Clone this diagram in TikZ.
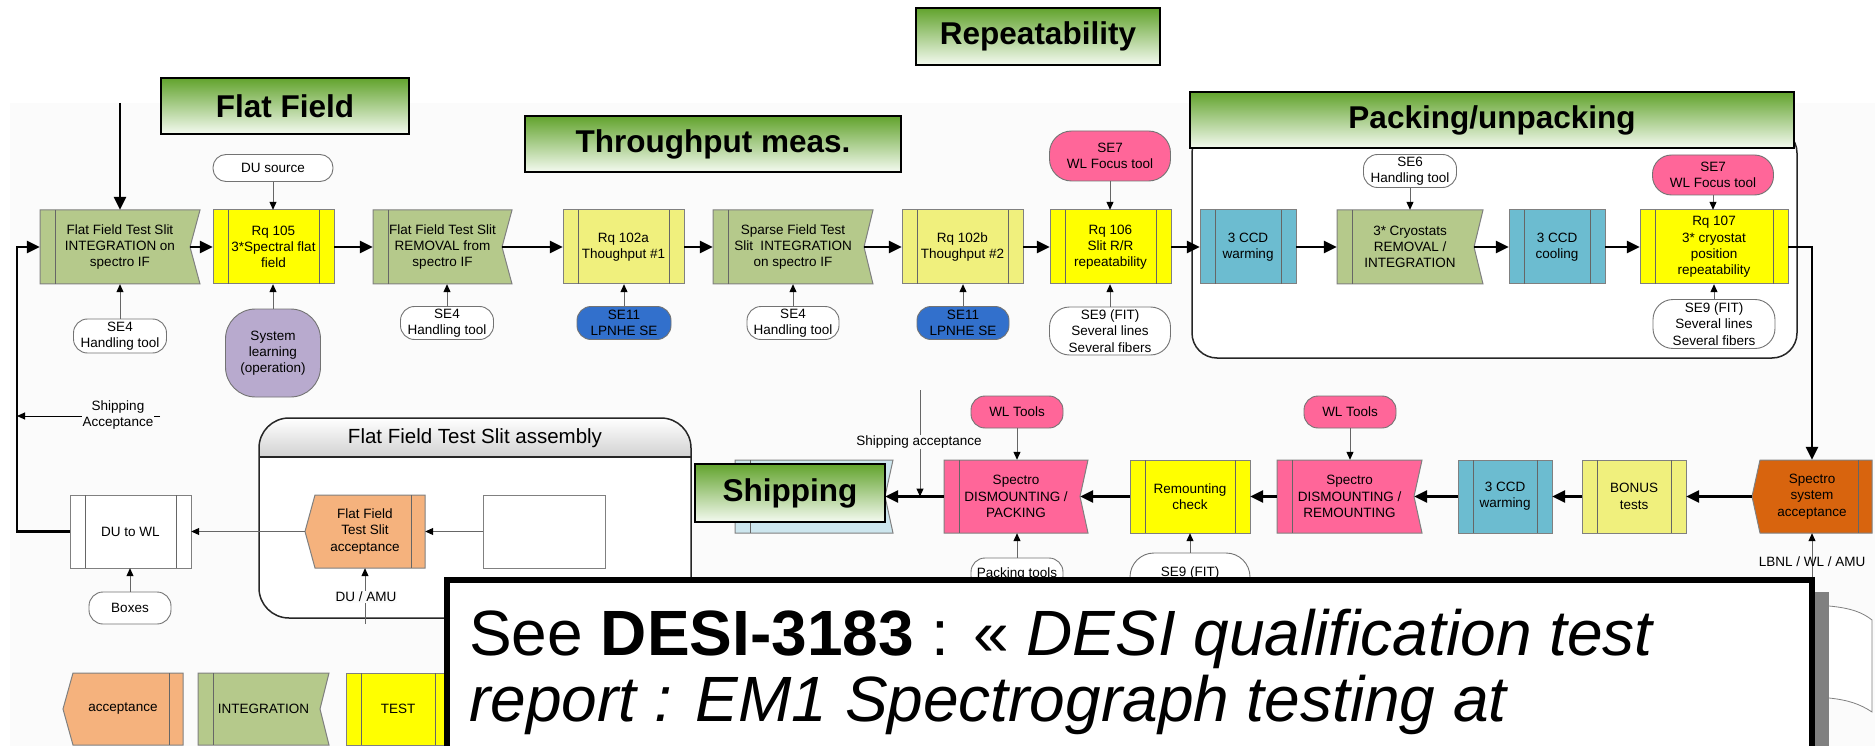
\documentclass[tikz,border=0pt]{standalone}
\usepackage{fontspec}
\setmainfont{Liberation Sans}
\usetikzlibrary{arrows.meta,calc}
\definecolor{cgreen}{RGB}{181,201,139}
\definecolor{cyel}{RGB}{255,255,0}
\definecolor{cpale}{RGB}{240,240,125}
\definecolor{cteal}{RGB}{108,188,208}
\definecolor{cpink}{RGB}{255,102,153}
\definecolor{cblue}{RGB}{50,112,204}
\definecolor{cpurple}{RGB}{184,170,206}
\definecolor{cdorange}{RGB}{216,100,14}
\definecolor{corange}{RGB}{245,178,125}
\definecolor{cship}{RGB}{205,230,238}
\definecolor{ttop}{RGB}{98,163,45}
\definecolor{tbot}{RGB}{244,250,240}
\definecolor{bgc}{RGB}{251,251,251}
\newcommand\smtxt{\fontsize{13.5}{16.3}\selectfont}
\newcommand\ttlfont{\bfseries\fontsize{31.5}{36}\selectfont}
\newcommand\ProcBox[7]{%
  \filldraw[boxline,fill=#6] (#2,#3) rectangle (#4,#5);
  \draw[innerline] (#2+15,#3) -- (#2+15,#5) (#4-15,#3) -- (#4-15,#5);
  \node[boxtext,minimum width=#4-#2,minimum height=#5-#3] (#1) at ({(#2+#4)/2},{(#3+#5)/2}) {#7};}
\newcommand\IntBox[8]{%
  \filldraw[boxline,fill=#6] (#2,#3) -- (#4,#3) -- (#4-#8,{(#3+#5)/2}) -- (#4,#5) -- (#2,#5) -- cycle;
  \draw[innerline] (#2+15,#3) -- (#2+15,#5);
  \node[boxtext,minimum width=#4-#2,minimum height=#5-#3] (#1) at ({(#2+#4)/2},{(#3+#5)/2}) {#7};}
\newcommand\AccBox[8]{%
  \filldraw[boxline,fill=#6] (#2+#8,#3) -- (#4,#3) -- (#4,#5) -- (#2+#8,#5) -- (#2,{(#3+#5)/2}) -- cycle;
  \draw[innerline] (#4-14,#3) -- (#4-14,#5);
  \node[boxtext,minimum width=#4-#2,minimum height=#5-#3] (#1) at ({(#2+#4)/2},{(#3+#5)/2}) {#7};}
\begin{document}
\begin{tikzpicture}[x=1pt,y=-1pt,
  boxline/.style={draw=black!50,line width=1pt},
  innerline/.style={draw=black!60,line width=1pt},
  boxtext/.style={inner sep=0pt,align=center,font=\smtxt},
  tool/.style={draw=black!55,line width=0.9pt,fill=white,align=center,inner sep=0pt,font=\smtxt,rounded corners=14pt},
  mainarr/.style={line width=2.6pt,-{Triangle[length=13pt,width=12pt]}},
  thinarr/.style={draw=black!60,line width=1pt,-{Triangle[length=8pt,width=7pt,color=black]}},
  ttl/.style={draw=black,line width=1.3pt,top color=ttop,bottom color=tbot,font=\ttlfont,inner sep=0pt},
  lbl/.style={font=\smtxt,align=center,inner sep=1pt}]
\useasboundingbox (0,0) rectangle (1875,746);
\clip (0,0) rectangle (1875,746);
\fill[bgc] (10,103) rectangle (1875,746);

% containers
\draw[line width=1.5pt,black!85,rounded corners=25pt,fill=white] (1192,128) rectangle (1797,358);
\begin{scope}
  \clip[rounded corners=30pt] (259,418) rectangle (691,618);
  \fill[white] (259,418) rectangle (691,618);
  \shade[top color=white,bottom color=black!18] (259,418) rectangle (691,457);
\end{scope}
\draw[line width=1.5pt,black!85,rounded corners=30pt] (259,418) rectangle (691,618);
\draw[line width=1.5pt,black!85] (259,457) -- (691,457);
\node[font=\fontsize{20.5}{24}\selectfont,inner sep=0pt] (asmtitle) at (475,438) {Flat Field Test Slit assembly};

% row 1
\IntBox{ffint}{40}{210}{200}{284}{cgreen}{Flat Field Test Slit\\INTEGRATION on\\spectro IF}{10}
\ProcBox{rq105}{213}{210}{334}{284}{cyel}{Rq 105\\3*Spectral flat\\field}
\IntBox{ffrem}{373}{210}{512}{284}{cgreen}{Flat Field Test Slit\\REMOVAL from\\spectro IF}{10}
\ProcBox{rq102a}{563}{210}{684}{284}{cpale}{Rq 102a\\Thoughput \#1}
\IntBox{sparse}{713}{210}{873}{284}{cgreen}{Sparse Field Test\\Slit~~INTEGRATION\\on spectro IF}{9}
\ProcBox{rq102b}{902}{210}{1023}{284}{cpale}{Rq 102b\\Thoughput \#2}
\ProcBox{rq106}{1050}{210}{1171}{284}{cyel}{Rq 106\\Slit R/R\\repeatability}
\ProcBox{ccdw}{1200}{210}{1296}{284}{cteal}{3 CCD\\warming}
\IntBox{cryo}{1337}{210}{1483}{284}{cgreen}{3* Cryostats\\REMOVAL /\\INTEGRATION}{9}
\ProcBox{ccdc}{1509}{210}{1605}{284}{cteal}{3 CCD\\cooling}
\ProcBox{rq107}{1640}{210}{1788}{284}{cyel}{Rq 107\\3* cryostat\\position\\repeatability}

% row 2
\AccBox{spacc}{1752}{460}{1872}{533}{cdorange}{Spectro\\system\\acceptance}{8}
\ProcBox{bonus}{1582}{460}{1686}{533}{cpale}{BONUS\\tests}
\ProcBox{ccdw2}{1458}{460}{1552}{533}{cteal}{3 CCD\\warming}
\IntBox{disrem}{1277}{460}{1422}{533}{cpink}{Spectro\\DISMOUNTING /\\REMOUNTING}{8}
\ProcBox{remount}{1130}{460}{1250}{533}{cyel}{Remounting\\check}
\IntBox{dispack}{944}{460}{1088}{533}{cpink}{Spectro\\DISMOUNTING /\\PACKING}{8}
\IntBox{shipbox}{735}{460}{893}{533}{cship}{}{8}

% lower left
\ProcBox{dutowl}{70}{495}{191}{568}{white}{DU to WL}
\AccBox{ffacc}{305}{495}{425}{568}{corange}{Flat Field\\Test Slit\\acceptance}{10}
\node[draw=black!50,line width=1pt,fill=white,minimum width=122,minimum height=73,inner sep=0pt] (ffsrc) at (544,531.5) {};

% legend
\AccBox{lgacc}{63}{673}{183}{745}{corange}{acceptance}{10}
\IntBox{lgint}{198}{673}{329}{745}{cgreen}{INTEGRATION}{9}
\ProcBox{lgtest}{346}{673}{450}{745}{cyel}{TEST}

% titles
\node[ttl,minimum width=248,minimum height=56] (ttff) at (285,106) {Flat Field};
\node[ttl,minimum width=244,minimum height=57] (ttrep) at (1038,36.5) {Repeatability};
\node[ttl,minimum width=376,minimum height=56] (ttthr) at (713,144) {Throughput meas.};
\node[ttl,minimum width=604,minimum height=56] (ttpack) at (1492,120) {Packing/unpacking};
\node[ttl,minimum width=190,minimum height=58] (ttship) at (790,493) {Shipping};

% tools
\node[tool,minimum width=120,minimum height=27,rounded corners=13pt] (du) at (273,168) {DU source};
\node[tool,fill=cpurple,minimum width=95,minimum height=88,rounded corners=30pt] (syslearn) at (273,353) {System\\learning\\(operation)};
\node[tool,minimum width=93,minimum height=34] (se4a) at (120,336) {SE4\\Handling tool};
\node[tool,minimum width=93,minimum height=33] (se4b) at (447,323) {SE4\\Handling tool};
\node[tool,fill=cblue,minimum width=94,minimum height=33] (se11a) at (624,323) {SE11\\LPNHE SE};
\node[tool,minimum width=92,minimum height=33] (se4c) at (793,323) {SE4\\Handling tool};
\node[tool,fill=cblue,minimum width=92,minimum height=33] (se11b) at (963,323) {SE11\\LPNHE SE};
\node[tool,fill=cpink,minimum width=121,minimum height=50,rounded corners=22pt] (se7a) at (1110,156) {SE7\\WL Focus tool};
\node[tool,minimum width=121,minimum height=48,rounded corners=20pt] (se9a) at (1110,331) {SE9 (FIT)\\Several lines\\Several fibers};
\node[tool,minimum width=93,minimum height=33] (se6) at (1410,171) {SE6\\Handling tool};
\node[tool,fill=cpink,minimum width=121,minimum height=40,rounded corners=19pt] (se7b) at (1713,175) {SE7\\WL Focus tool};
\node[tool,minimum width=122,minimum height=49,rounded corners=20pt] (se9b) at (1714,324) {SE9 (FIT)\\Several lines\\Several fibers};
\node[tool,fill=cpink,minimum width=92,minimum height=32] (wlt1) at (1017,412) {WL Tools};
\node[tool,fill=cpink,minimum width=92,minimum height=32] (wlt2) at (1350,412) {WL Tools};
\node[tool,minimum width=92,minimum height=32] (pack) at (1017,574) {Packing tools};
\node[tool,minimum width=120,minimum height=70,rounded corners=24pt] (se9c) at (1190,588) {SE9 (FIT)\\Several lines\\Several fibers};
\node[tool,minimum width=82,minimum height=32] (boxes) at (130,608) {Boxes};

% thin input arrows
\draw[thinarr] (du.south) -- (du.south |- rq105.north);
\draw[thinarr] (syslearn.north) -- (syslearn.north |- rq105.south);
\draw[thinarr] (se4a.north) -- (se4a.north |- ffint.south);
\draw[thinarr] (se4b.north) -- (se4b.north |- ffrem.south);
\draw[thinarr] (se11a.north) -- (se11a.north |- rq102a.south);
\draw[thinarr] (se4c.north) -- (se4c.north |- sparse.south);
\draw[thinarr] (se11b.north) -- (se11b.north |- rq102b.south);
\draw[thinarr] (se7a.south) -- (se7a.south |- rq106.north);
\draw[thinarr] (se9a.north) -- (se9a.north |- rq106.south);
\draw[thinarr] (se6.south) -- (se6.south |- cryo.north);
\draw[thinarr] (se7b.south) -- (se7b.south |- rq107.north);
\draw[thinarr] (se9b.north) -- (se9b.north |- rq107.south);
\draw[thinarr] (wlt1.south) -- (wlt1.south |- dispack.north);
\draw[thinarr] (wlt2.south) -- (wlt2.south |- disrem.north);
\draw[thinarr] (pack.north) -- (pack.north |- dispack.south);
\draw[thinarr] (se9c.north) -- (se9c.north |- remount.south);
\draw[thinarr] (boxes.north) -- (boxes.north |- dutowl.south);
\draw[thinarr] (ffsrc.west) -- (ffacc.east);
\draw[thinarr] (ffacc.west) -- (dutowl.east);

% main flow row 1
\coordinate (topin) at (120,103);
\coordinate (lx) at (17,0);
\draw[mainarr] (topin) -- (ffint.north);
\draw[mainarr] ([xshift=-10pt]ffint.east) -- (rq105.west);
\draw[mainarr] (rq105.east) -- (ffrem.west);
\draw[mainarr] ([xshift=-10pt]ffrem.east) -- (rq102a.west);
\draw[mainarr] (rq102a.east) -- (sparse.west);
\draw[mainarr] ([xshift=-9pt]sparse.east) -- (rq102b.west);
\draw[mainarr] (rq102b.east) -- (rq106.west);
\draw[mainarr] (rq106.east) -- (ccdw.west);
\draw[mainarr] (ccdw.east) -- (cryo.west);
\draw[mainarr] ([xshift=-9pt]cryo.east) -- (ccdc.west);
\draw[mainarr] (ccdc.east) -- (rq107.west);
\draw[mainarr] (rq107.east) -| (spacc.north);
% row 2
\draw[mainarr] (spacc.west) -- (bonus.east);
\draw[mainarr] (bonus.west) -- (ccdw2.east);
\draw[mainarr] (ccdw2.west) -- ([xshift=-8pt]disrem.east);
\draw[mainarr] (disrem.west) -- (remount.east);
\draw[mainarr] (remount.west) -- ([xshift=-8pt]dispack.east);
\draw[mainarr] (dispack.west) -- ([xshift=-8pt]shipbox.east);
% loop back
\draw[mainarr] (dutowl.west) -- (dutowl.west -| lx) -- (ffint.west -| lx) -- (ffint.west);

% labels with lines
\coordinate (shs) at (160,416);
\draw[thinarr,draw=black] (shs) -- (shs -| lx);
\node[lbl,fill=bgc] (shacc) at (118,415) {Shipping\\Acceptance};
\coordinate (sat) at (920,390);
\draw[thinarr] (sat) -- (sat |- dispack.west);
\node[lbl,fill=bgc] (shacc2) at (919,442) {Shipping acceptance};
\coordinate (duamu) at (365,624);
\draw[thinarr] (duamu) -- (ffacc.south);
\node[lbl,fill=bgc] (duamul) at (366,597) {DU / AMU};
\coordinate (lbc) at (1812,590);
\draw[thinarr] (lbc) -- (spacc.south);
\node[lbl] (lbnl) at (1812,562) {LBNL / WL / AMU};

% note box
\fill[black!50] (1813,592) rectangle (1829,746);
\draw[black!50,line width=0.8pt,fill=white] (1829,606) .. controls (1850,608) and (1862,612) .. (1872,620) -- (1872,712) .. controls (1860,704) and (1848,700) .. (1829,698);
\draw[line width=6pt,fill=white] (447,580) rectangle (1812,800);
\node[anchor=base west,font=\fontsize{64}{66}\selectfont,inner sep=0pt] (tb1) at (469,655) {See \textbf{DESI-3183} : « \textit{DESI qualification test}};
\node[anchor=base west,font=\fontsize{64}{66}\selectfont,inner sep=0pt] (tb2) at (469,721) {\textit{report : EM1 Spectrograph testing at}};
\end{tikzpicture}
\end{document}
